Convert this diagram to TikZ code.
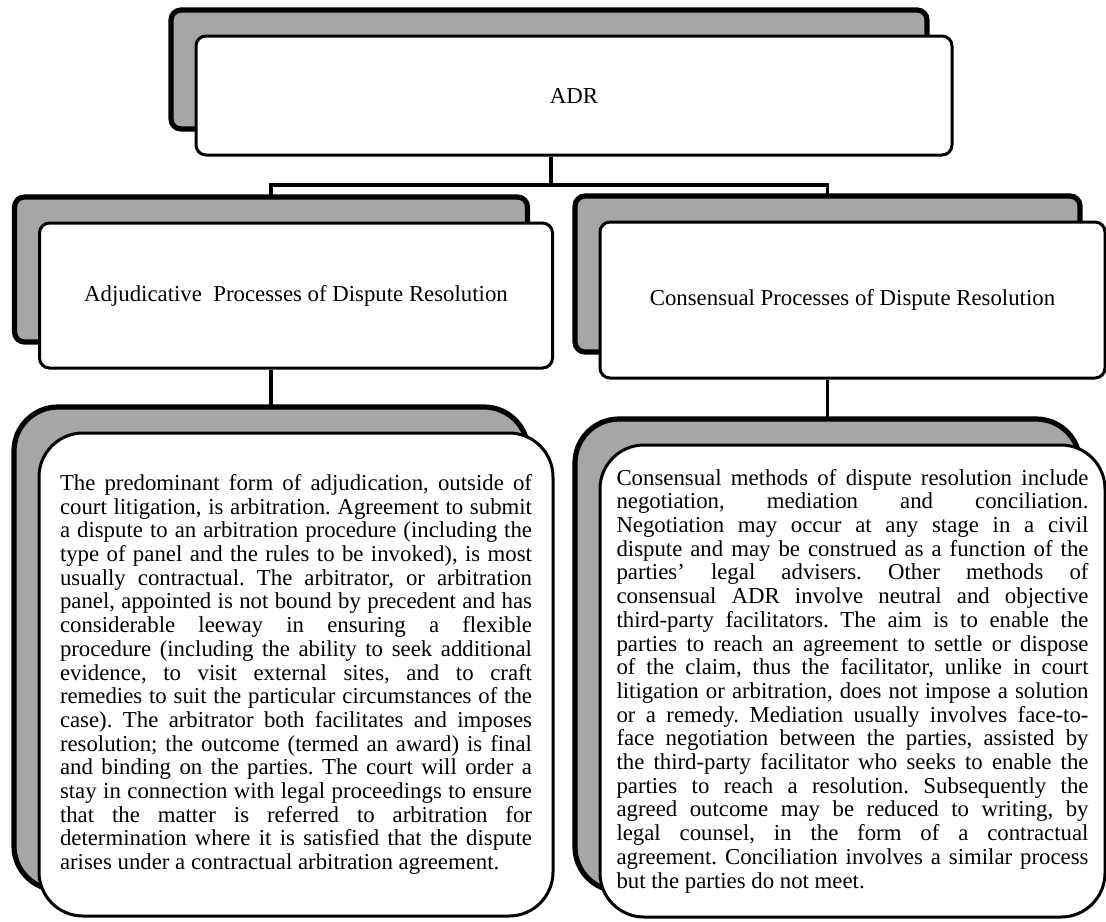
\documentclass[tikz,border=0pt]{standalone}
\usepackage{fontspec}
\setmainfont{Liberation Serif}
\usepackage{tikz}
\usetikzlibrary{shadows}
\definecolor{backgray}{RGB}{166,166,166}
\newcommand{\adrfont}{\fontsize{11.4}{11.85}\selectfont\frenchspacing}
\newcommand{\adrtextfont}{\adrfont\tolerance=10000 \hyphenpenalty=10000 }
\tikzset{
  backcopy/.style={
    copy shadow={shadow xshift=-12.5pt,shadow yshift=13pt,
      fill=backgray,draw=black,line width=2.6pt}
  },
  headbox/.style={
    draw,line width=1.5pt,fill=white,rounded corners=5pt,backcopy,
    align=center,inner sep=0pt,font=\adrfont
  },
  textbox/.style={
    draw,line width=1.5pt,fill=white,rounded corners=22pt,backcopy,
    text width=236pt,align=justify,inner sep=0pt,font=\adrtextfont
  },
  link/.style={draw=black,line width=1.6pt}
}

\begin{document}
\begin{tikzpicture}[x=0.5pt,y=-0.5pt]
  \path[use as bounding box,fill=white] (0,0) rectangle (1106,921);
  % top of the tree
  \node[headbox,minimum width=378pt,minimum height=59.5pt] (adr) at (574,95.5) {ADR};
  % the two kinds of process
  \node[headbox,minimum width=256.5pt,minimum height=72.5pt] (adj) at (296,295.5)
    {Adjudicative\ \ Processes of Dispute Resolution};
  \node[headbox,minimum width=252.5pt,minimum height=78pt] (cons) at (852.5,300)
    {Consensual Processes of Dispute Resolution};
  % what each one means
  \node[textbox,minimum width=257pt,minimum height=241.5pt] (adjtext) at (296,674.5)
    {The predominant form of adjudication, outside of\linebreak
     court litigation, is arbitration. Agreement to submit\linebreak
     a dispute to an arbitration procedure (including the\linebreak
     type of panel and the rules to be invoked), is most\linebreak
     usually contractual. The arbitrator, or arbitration\linebreak
     panel, appointed is not bound by precedent and has\linebreak
     considerable leeway in ensuring a flexible\linebreak
     procedure (including the ability to seek additional\linebreak
     evidence, to visit external sites, and to craft\linebreak
     remedies to suit the particular circumstances of the\linebreak
     case). The arbitrator both facilitates and imposes\linebreak
     resolution; the outcome (termed an award) is final\linebreak
     and binding on the parties. The court will order a\linebreak
     stay in connection with legal proceedings to ensure\linebreak
     that the matter is referred to arbitration for\linebreak
     determination where it is satisfied that the dispute\linebreak
     arises under a contractual arbitration agreement.};
  \node[textbox,minimum width=252.5pt,minimum height=236pt] (constext) at (852.5,681)
    {Consensual methods of dispute resolution include\linebreak
     negotiation, mediation and conciliation.\linebreak
     Negotiation may occur at any stage in a civil\linebreak
     dispute and may be construed as a function of the\linebreak
     parties’ legal advisers. Other methods of\linebreak
     consensual ADR involve neutral and objective\linebreak
     third-party facilitators. The aim is to enable the\linebreak
     parties to reach an agreement to settle or dispose\linebreak
     of the claim, thus the facilitator, unlike in court\linebreak
     litigation or arbitration, does not impose a solution\linebreak
     or a remedy. Mediation usually involves face-to-\linebreak
     face negotiation between the parties, assisted by\linebreak
     the third-party facilitator who seeks to enable the\linebreak
     parties to reach a resolution. Subsequently the\linebreak
     agreed outcome may be reduced to writing, by\linebreak
     legal counsel, in the form of a contractual\linebreak
     agreement. Conciliation involves a similar process\linebreak
     but the parties do not meet.};
  % connectors
  \coordinate (split) at (551,185);
  \draw[link] (adr.south -| split) -- (split);
  \draw[link] ([xshift=-12.5pt,yshift=13pt]adj.north) |- (split)
    -| ([xshift=-12.5pt,yshift=13pt]cons.north);
  \draw[link] ([xshift=-12.5pt]adj.south) -- ([xshift=-12.5pt,yshift=13pt]adjtext.north);
  \draw[link] ([xshift=-12.5pt]cons.south) -- ([xshift=-12.5pt,yshift=13pt]constext.north);
\end{tikzpicture}
\end{document}
